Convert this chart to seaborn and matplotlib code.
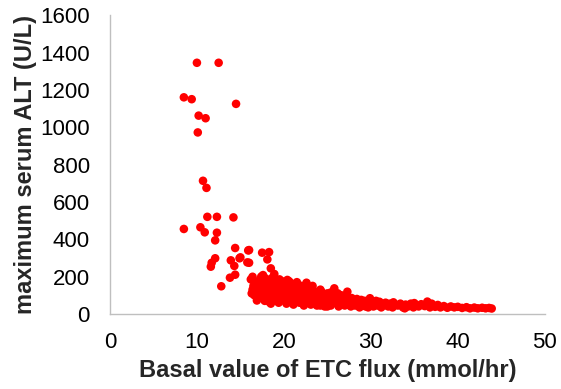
import matplotlib
matplotlib.use("Agg")
import matplotlib.pyplot as plt
import seaborn as sns
import pandas as pd

# Outlying points (high ALT)
outlier_flux = [10.0, 12.5, 8.5, 9.4, 14.5, 10.2, 11.0, 10.1, 10.7, 11.1, 11.2, 12.3,
                14.2, 8.5, 10.4, 10.9, 12.3, 12.1, 14.4, 15.9, 12.1, 11.7, 11.6, 13.9,
                14.9, 15.8, 17.5, 18.3, 18.1, 18.5, 13.8, 12.8, 14.4, 18.9, 16.0, 16.0,
                15.0, 14.3, 17.6, 16.4]
outlier_alt = [1345, 1345, 1160, 1150, 1125, 1062, 1048, 972, 713, 675, 520, 520,
               517, 455, 464, 437, 435, 394, 353, 340, 298, 274, 253, 287,
               298, 276, 328, 331, 292, 244, 194, 148, 210, 214, 342, 274,
               303, 257, 208, 199]

# Dense band of points
band_flux = [
    16.2, 16.5, 16.8, 17.0, 17.1, 17.3, 17.4, 17.6, 17.7, 17.9, 16.6, 16.9, 17.2,
    17.5, 17.8, 17.9, 16.4, 16.7, 17.0, 17.3, 17.6, 17.8, 16.3, 17.1, 17.7,
    18.0, 18.1, 18.2, 18.3, 18.4, 18.5, 18.6, 18.7, 18.8, 18.9, 19.0, 19.1, 19.2,
    19.3, 19.4, 19.5, 19.6, 19.7, 19.8, 19.9, 18.2, 18.5, 18.9, 19.3, 19.6, 19.9,
    18.6, 19.0, 19.4, 19.8,
    20.0, 20.1, 20.2, 20.3, 20.4, 20.5, 20.6, 20.7, 20.8, 20.9, 21.0, 21.1, 21.2,
    21.3, 21.4, 21.5, 21.6, 21.7, 21.8, 21.9, 20.2, 20.6, 21.0, 21.4, 21.8, 20.4,
    20.9, 21.3, 21.7, 21.9,
    22.0, 22.1, 22.2, 22.3, 22.4, 22.5, 22.6, 22.7, 22.8, 22.9, 23.0, 23.1, 23.2,
    23.3, 23.4, 23.5, 23.6, 23.7, 23.8, 23.9, 22.2, 22.6, 23.0, 23.4, 23.8, 22.4,
    22.9, 23.3,
    24.0, 24.1, 24.2, 24.3, 24.4, 24.5, 24.6, 24.7, 24.8, 24.9, 25.0, 25.1, 25.2,
    25.3, 25.4, 25.5, 25.6, 25.8, 25.9, 24.2, 24.6, 25.0, 25.4, 25.8,
    26.0, 26.1, 26.3, 26.4, 26.6, 26.7, 26.9, 27.0, 27.1, 27.3, 27.4, 27.5, 27.7,
    27.8, 27.9, 26.2, 26.5, 26.8, 27.2, 27.6,
    28.0, 28.2, 28.4, 28.5, 28.7, 28.9, 29.0, 29.2, 29.4, 29.6, 29.9, 29.8, 28.3,
    28.8, 29.3, 29.7,
    30.1, 30.3, 30.5, 30.8, 31.0, 31.2, 31.5, 31.7, 32.0, 32.2, 32.5, 32.8, 30.6,
    31.9, 32.6,
    33.1, 33.4, 33.7, 34.0, 34.3, 34.6, 34.9, 35.2, 35.5, 35.8, 33.9, 35.0,
    36.2, 36.5, 36.8, 37.1, 37.4, 37.7, 38.0, 38.4, 38.8, 39.2, 39.6, 37.0,
    40.0, 40.5, 41.0, 41.4, 41.9, 42.3, 42.8, 43.2, 43.6, 43.9,
]
band_alt = [
    185, 150, 120, 175, 95, 140, 200, 110, 160, 85, 100, 72, 130,
    185, 125, 190, 130, 165, 88, 105, 150, 70, 110, 155, 95,
    180, 140, 100, 65, 160, 120, 85, 195, 145, 105, 75, 170, 130,
    95, 60, 185, 150, 115, 80, 140, 170, 55, 125, 160, 70, 100,
    155, 110, 135, 175,
    160, 120, 90, 55, 182, 140, 100, 70, 165, 125, 85, 50, 150,
    110, 75, 170, 130, 95, 60, 145, 135, 175, 155, 120, 105, 65,
    95, 140, 80, 115,
    150, 110, 75, 45, 130, 95, 167, 60, 120, 85, 140, 50, 105,
    70, 125, 119, 90, 55, 110, 75, 140, 100, 65, 95, 45, 55,
    115, 150,
    100, 70, 45, 120, 85, 60, 105, 40, 90, 65, 110, 50, 80,
    95, 45, 70, 100, 137, 60, 130, 75, 40, 115, 85,
    95, 60, 40, 80, 100, 55, 70, 45, 90, 119, 60, 75, 40,
    85, 55, 110, 65, 88, 50, 65,
    70, 45, 80, 55, 35, 75, 50, 65, 40, 55, 84, 45, 60,
    40, 70, 35,
    60, 40, 55, 45, 65, 35, 50, 60, 40, 55, 35, 50, 70,
    45, 62,
    45, 55, 35, 50, 40, 55, 35, 48, 40, 52, 30, 58,
    42, 66, 35, 45, 38, 48, 35, 42, 33, 40, 35, 55,
    38, 32, 36, 30, 34, 30, 33, 30, 32, 29,
]

x_ticks = [0, 10, 20, 30, 40, 50]
y_ticks = [0, 200, 400, 600, 800, 1000, 1200, 1400, 1600]

df = pd.DataFrame({
    "flux": outlier_flux + band_flux,
    "alt": outlier_alt + band_alt,
})

sns.set_style("white")
plt.rcParams["font.family"] = ["Liberation Sans", "DejaVu Sans"]

fig = plt.figure(figsize=(5.61, 3.89), dpi=100)
ax = fig.add_axes([0.196, 0.193, 0.775, 0.768])

sns.scatterplot(data=df, x="flux", y="alt", ax=ax, color="#ff0000",
                s=38, linewidth=0, edgecolor="none", alpha=1.0, zorder=3)

ax.set_xlim(0, 50)
ax.set_ylim(0, 1600)
ax.set_xticks(x_ticks)
ax.set_yticks(y_ticks)
ax.set_xticklabels([str(t) for t in x_ticks])
ax.set_yticklabels([str(t) for t in y_ticks])

for side in ["top", "right"]:
    ax.spines[side].set_visible(False)
for side in ["left", "bottom"]:
    ax.spines[side].set_color("#bfbfbf")
    ax.spines[side].set_linewidth(1.0)

ax.tick_params(axis="both", which="major", direction="out", length=5, width=1,
               color="#bfbfbf", labelsize=16, labelcolor="#000000")
ax.tick_params(axis="y", pad=9.5)
ax.tick_params(axis="x", pad=8)

ax.set_xlabel("Basal value of ETC flux (mmol/hr)", fontsize=17,
              fontweight="bold", labelpad=4)
ax.set_ylabel("maximum serum ALT (U/L)", fontsize=17,
              fontweight="bold", labelpad=2)
ax.grid(False)

fig.savefig("out.png", dpi=100)
